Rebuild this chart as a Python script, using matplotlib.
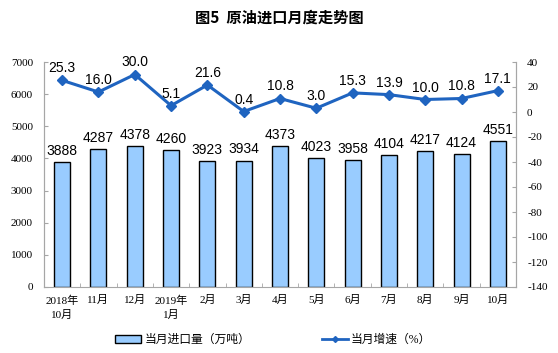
import matplotlib
matplotlib.use("Agg")
import matplotlib.pyplot as plt
import numpy as np

plt.rcParams['font.family'] = ['Liberation Sans', 'Noto Sans CJK SC']

# data
months = ['2018年\n10月', '11月', '12月', '2019年\n1月', '2月', '3月', '4月',
          '5月', '6月', '7月', '8月', '9月', '10月']
imports = [3888, 4287, 4378, 4260, 3923, 3934, 4373, 4023, 3958, 4104, 4217, 4124, 4551]
growth = [25.3, 16.0, 30.0, 5.1, 21.6, 0.4, 10.8, 3.0, 15.3, 13.9, 10.0, 10.8, 17.1]
left_ticks = [0, 1000, 2000, 3000, 4000, 5000, 6000, 7000]
right_ticks = [40, 20, 0, -20, -40, -60, -80, -100, -120, -140]

bar_color = '#99CCFF'
line_color = '#1F64C0'
axis_gray = '#A6A6A6'
serif = ['Liberation Serif', 'Noto Sans CJK SC']

fig = plt.figure(figsize=(5.58, 3.53), dpi=100)
ax = fig.add_axes([44 / 558, 66 / 353, 472 / 558, 225 / 353])
ax2 = ax.twinx()

x = np.arange(len(months))
ax.bar(x, imports, width=0.44, color=bar_color, edgecolor='black', linewidth=1.0, zorder=2)
for xi, v in zip(x, imports):
    ax.text(xi, v + 130, str(v), ha='center', va='bottom', fontsize=10, color='black')

ax.set_xlim(-0.5, len(months) - 0.5)
ax.set_ylim(0, 7000)
ax.set_yticks(left_ticks)
ax.set_yticklabels([str(t) for t in left_ticks], family=serif, fontsize=8)
ax.set_xticks(x)
ax.set_xticklabels(months, family=serif, fontsize=8, linespacing=1.5)
ax.tick_params(axis='x', length=0, pad=6)
ax.set_xticks(np.arange(len(months) + 1) - 0.5, minor=True)
ax.tick_params(axis='x', which='minor', direction='in', length=3, color=axis_gray)
ax.tick_params(axis='y', direction='in', length=3, color=axis_gray, pad=8)

ax2.plot(x, growth, color=line_color, linewidth=2.2, marker='D', markersize=5, zorder=3)
for xi, v in zip(x, growth):
    ax2.text(xi, v + 4, f'{v:.1f}', ha='center', va='bottom', fontsize=10, color='black')
ax2.set_ylim(-140, 40)
ax2.set_yticks(right_ticks)
ax2.set_yticklabels([str(t) for t in right_ticks], family=serif, fontsize=8)
ax2.tick_params(axis='y', direction='in', length=3, color=axis_gray, pad=8)

for a in (ax, ax2):
    a.spines['top'].set_visible(False)
    for s in ('left', 'right', 'bottom'):
        a.spines[s].set_color(axis_gray)
ax2.spines['bottom'].set_visible(False)

fig.text(0.5, 1 - 18 / 353, '图5  原油进口月度走势图', ha='center', va='center',
         fontsize=11, fontweight='bold', family=['Noto Sans CJK SC'])

# legend
from matplotlib.patches import Patch
from matplotlib.lines import Line2D
handles = [Patch(facecolor=bar_color, edgecolor='black', linewidth=1.0, label='当月进口量（万吨）'),
           Line2D([0], [0], color=line_color, linewidth=2, marker='D', markersize=3,
                  label='当月增速（%）')]
fig.legend(handles=handles, loc='center', bbox_to_anchor=(0.49, 1 - 340 / 353), ncol=2,
           frameon=False, prop={'family': serif, 'size': 8.5}, columnspacing=6,
           handlelength=2.2, handleheight=0.7, handletextpad=0.3)

fig.savefig('out.png', dpi=100)
